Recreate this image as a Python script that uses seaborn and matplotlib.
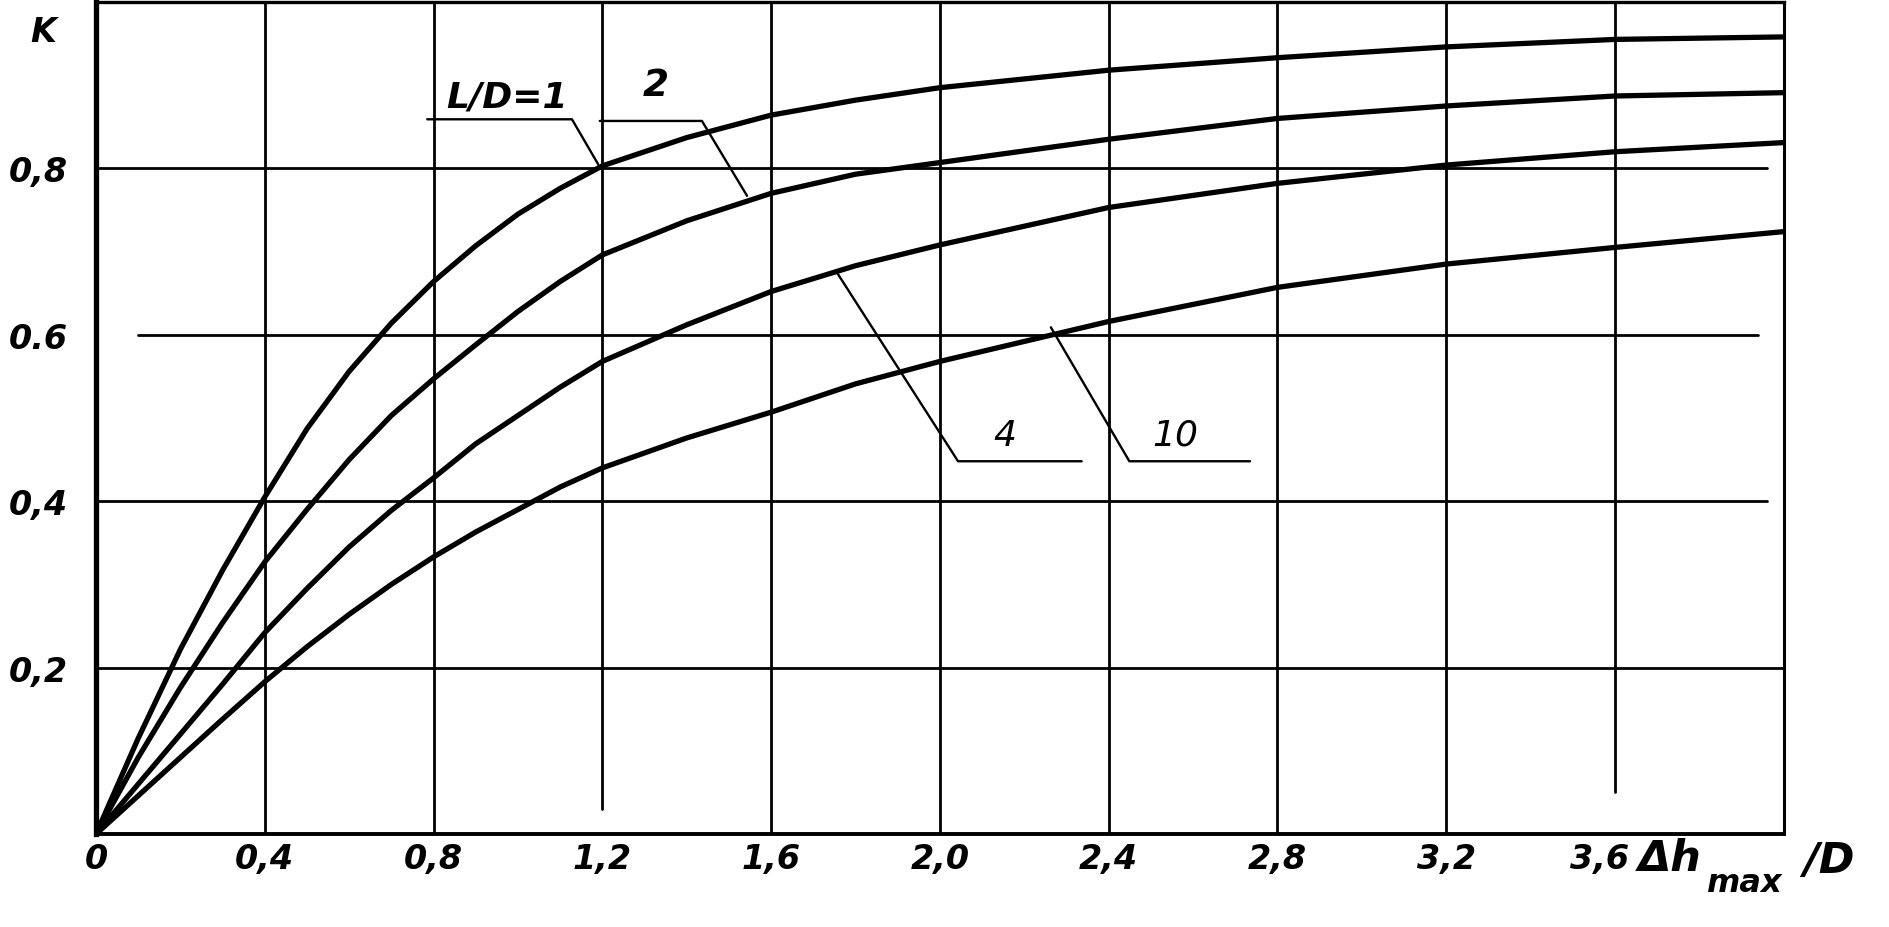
import matplotlib
matplotlib.use("Agg")
import matplotlib.pyplot as plt
import matplotlib.transforms as mtransforms
import seaborn as sns
import pandas as pd

# ---- data ----
x_vals = [0, 0.1, 0.2, 0.3, 0.4, 0.5, 0.6, 0.7, 0.8, 0.9, 1.0, 1.1, 1.2,
          1.4, 1.6, 1.8, 2.0, 2.4, 2.8, 3.2, 3.6, 4.0]
k_ld1 = [0, 0.115, 0.222, 0.317, 0.405, 0.487, 0.556, 0.614, 0.664, 0.707, 0.745,
         0.776, 0.803, 0.837, 0.864, 0.882, 0.897, 0.918, 0.933, 0.946, 0.955, 0.958]
k_ld2 = [0, 0.092, 0.176, 0.254, 0.327, 0.39, 0.45, 0.503, 0.547, 0.588, 0.628,
         0.664, 0.696, 0.737, 0.77, 0.793, 0.807, 0.835, 0.86, 0.875, 0.887, 0.891]
k_ld4 = [0, 0.06, 0.12, 0.18, 0.242, 0.295, 0.345, 0.389, 0.428, 0.469, 0.503,
         0.537, 0.568, 0.612, 0.652, 0.683, 0.708, 0.753, 0.782, 0.804, 0.82, 0.831]
k_ld10 = [0, 0.046, 0.092, 0.138, 0.183, 0.225, 0.264, 0.3, 0.333, 0.363, 0.39,
          0.417, 0.44, 0.476, 0.507, 0.541, 0.568, 0.616, 0.657, 0.685, 0.705, 0.724]
series_names = ["1", "2", "4", "10"]

x_ticks = [0, 0.4, 0.8, 1.2, 1.6, 2.0, 2.4, 2.8, 3.2, 3.6]
x_ticklabels = ["0", "0,4", "0,8", "1,2", "1,6", "2,0", "2,4", "2,8", "3,2", "3,6"]
y_ticks = [0.2, 0.4, 0.6, 0.8]
y_ticklabels = ["0,2", "0,4", "0.6", "0,8"]

df = pd.concat([
    pd.DataFrame({"x": x_vals, "K": k, "LD": name})
    for k, name in zip([k_ld1, k_ld2, k_ld4, k_ld10], series_names)
])

sns.set_style("white")
plt.rcParams["font.family"] = ["DejaVu Sans"]
plt.rcParams["text.color"] = "black"
plt.rcParams["xtick.color"] = "black"
plt.rcParams["ytick.color"] = "black"

fig = plt.figure(figsize=(18.9, 9.28), dpi=100)
ax = fig.add_axes([0.0508, 0.1002, 0.893, 0.8966])

sns.lineplot(data=df, x="x", y="K", hue="LD", palette=["black"] * 4,
             linewidth=3.8, legend=False, ax=ax, sort=True)
for ln in ax.lines:
    ln.set_solid_capstyle("round")
    ln.set_solid_joinstyle("round")

ax.set_xlim(0, 4.0)
ax.set_ylim(0, 1.0)

# grid (hand-drawn sheet: a few lines stop short)
gl = dict(color="black", lw=2.0, zorder=1)
for xv in x_ticks[1:]:
    ymin = 0.0
    if abs(xv - 1.2) < 1e-9:
        ymin = 0.03
    if abs(xv - 3.6) < 1e-9:
        ymin = 0.05
    ax.axvline(xv, ymin=ymin, ymax=1.0, **gl)
for yv in y_ticks:
    xmin, xmax = 0.0, 1.0
    if abs(yv - 0.6) < 1e-9:
        xmin, xmax = 0.025, 0.985
    if abs(yv - 0.4) < 1e-9 or abs(yv - 0.8) < 1e-9:
        xmax = 0.99
    ax.axhline(yv, xmin=xmin, xmax=xmax, **gl)

for side, lw in [("left", 3.8), ("bottom", 2.8), ("top", 2.4), ("right", 2.2)]:
    ax.spines[side].set_visible(True)
    ax.spines[side].set_color("black")
    ax.spines[side].set_linewidth(lw)

tfont = dict(fontsize=24, fontstyle="italic", fontweight="bold", color="black")
ax.set_xticks(x_ticks)
ax.set_xticklabels(x_ticklabels, **tfont)
ax.set_yticks(y_ticks)
ax.set_yticklabels(y_ticklabels, **tfont)
ax.tick_params(axis="both", length=0)
ax.tick_params(axis="x", pad=6)
ax.tick_params(axis="y", pad=20)
ax.set_xlabel("")
ax.set_ylabel("")
# the last x label sits a little left of its grid line in the reference
last = ax.get_xticklabels()[-1]
last.set_transform(last.get_transform() +
                   mtransforms.ScaledTranslation(-0.15, 0, fig.dpi_scale_trans))

# axis titles
lab = dict(fontstyle="italic", fontweight="bold", color="black", clip_on=False)
ax.text(3.655, -0.043, "Δh", ha="left", va="baseline", fontsize=31, **lab)
ax.text(3.815, -0.068, "max", ha="left", va="baseline", fontsize=23, **lab)
ax.text(4.045, -0.046, "/D", ha="left", va="baseline", fontsize=31, **lab)
ax.text(-0.125, 0.965, "K", ha="center", va="center", clip_on=False,
        fontsize=24, fontstyle="italic", fontweight="bold", color="black")

# annotations with leader lines
lk = dict(color="black", lw=1.7, zorder=2)
ax.plot([0.785, 1.128, 1.19], [0.859, 0.859, 0.805], **lk)
ax.text(0.83, 0.866, "L/D=1", ha="left", va="bottom", fontsize=26,
        fontstyle="italic", fontweight="bold", color="black")
ax.plot([1.194, 1.436, 1.543], [0.857, 0.857, 0.767], **lk)
ax.text(1.326, 0.90, "2", ha="center", va="center", fontsize=27,
        fontstyle="italic", fontweight="bold", color="black")
ax.plot([1.757, 2.043, 2.336], [0.674, 0.448, 0.448], **lk)
ax.text(2.154, 0.48, "4", ha="center", va="center", fontsize=26,
        fontstyle="italic", color="black")
ax.plot([2.263, 2.449, 2.735], [0.609, 0.448, 0.448], **lk)
ax.text(2.557, 0.48, "10", ha="center", va="center", fontsize=26,
        fontstyle="italic", color="black")

fig.savefig("out.png", dpi=100, facecolor="white")
